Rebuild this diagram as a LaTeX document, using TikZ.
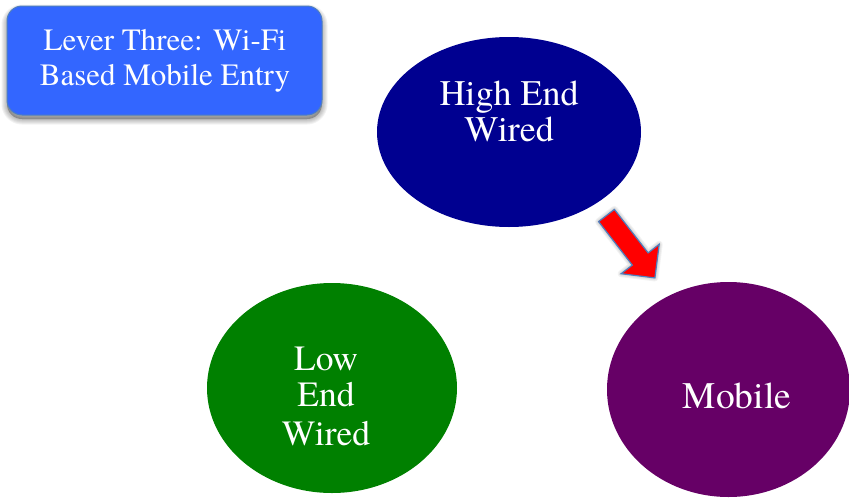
\documentclass[tikz,border=0pt]{standalone}
\usepackage{fontspec}
\IfFontExistsTF{texgyretermes-regular.otf}
  {\newfontfamily\timesfont{texgyretermes-regular.otf}}
  {\newfontfamily\timesfont{Liberation Serif}}
\newcommand\segfont[1]{\timesfont\fontsize{#1}{#1}\selectfont}
\usetikzlibrary{shapes.geometric}
\definecolor{boxblue}{HTML}{3366FF}
\definecolor{edgeblue}{HTML}{4F7FBF}
\definecolor{navy}{HTML}{000090}
\definecolor{leafgreen}{HTML}{008000}
\definecolor{plum}{HTML}{660066}
\tikzset{
  bubble/.style={ellipse, inner sep=0pt, draw=none},
  textblock/.style={text=white, align=center, inner sep=0pt, anchor=north},
  banner/.style={rounded corners=15pt, fill=boxblue, draw=edgeblue, line width=1pt},
  softshade/.style={fill=black, draw=black, fill opacity=0.05, draw opacity=0.05, line join=round},
  blockarrow/.style={fill=red, draw=edgeblue, line width=1.2pt, line join=miter}
}
\begin{document}
\begin{tikzpicture}[x=1pt,y=-1pt]
\useasboundingbox (0,0) rectangle (849,498);

% soft shadow under the title banner
\foreach \w in {1,3,5,7,9,11}
  \draw[softshade, line width=\w pt, rounded corners=15pt] (7,10) rectangle (322,119);

% title banner
\node[banner, minimum width=315pt, minimum height=109pt] (banner) at (164.5,60.5) {};
\node[textblock] (bannertext) at (165,28.8)
  {\segfont{31}Lever Three: Wi-Fi\\[12.5pt]\segfont{31}Based Mobile Entry};

% the three market segments
\node[bubble, fill=navy, minimum width=264pt, minimum height=190pt] (high) at (509,132) {};
\node[textblock] (hightext) at (509,80.4)
  {\segfont{36}High End\\[3pt]\segfont{36}Wired};

\node[bubble, fill=leafgreen, minimum width=250pt, minimum height=210pt] (low) at (332,388) {};
\node[textblock] (lowtext) at (326,346.5)
  {\segfont{35.5}Low\\[11pt]\segfont{35.5}End\\[13pt]\segfont{35.5}Wired};

\node[bubble, fill=plum, minimum width=243pt, minimum height=215pt] (mobile) at (728.5,389.5) {};
\node[textblock] (mobiletext) at (737,382.4)
  {\segfont{37.5}Mobile};

% block arrow from high end wired towards mobile
\coordinate (t1) at (614.4,209.4);
\coordinate (t2) at (598.6,221.6);
\coordinate (s1) at (648.1,252.9);
\coordinate (s2) at (632.3,265.1);
\coordinate (b1) at (659.2,244.3);
\coordinate (b2) at (621.2,273.7);
\coordinate (tip) at (654.9,277.9);
\begin{scope}[shift={(-2,3)}]
  \foreach \w in {1,3,5,7}
    \draw[softshade, line width=\w pt] (t1) -- (s1) -- (b1) -- (tip) -- (b2) -- (s2) -- (t2) -- cycle;
\end{scope}
\draw[blockarrow] (t1) -- (s1) -- (b1) -- (tip) -- (b2) -- (s2) -- (t2) -- cycle;
\end{tikzpicture}
\end{document}
